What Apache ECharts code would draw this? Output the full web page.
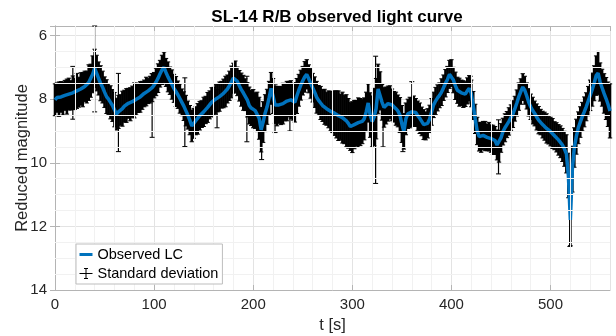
<!DOCTYPE html>
<html><head><meta charset="utf-8">
<script src="https://cdn.jsdelivr.net/npm/echarts@6/dist/echarts.min.js"></script>
<style>html,body{margin:0;padding:0;background:#fff}#c{width:616px;height:336px}</style>
</head><body><div id="c"></div>
<script>
// Observed reduced magnitude, sampled every 2 s from t = 0 to t = 560
const magnitude = [
8.02,7.95,8.00,7.93,7.98,7.88,7.92,7.84,7.88,7.80,
7.83,7.74,7.78,7.68,7.70,7.60,7.62,7.48,7.42,7.22,
7.03,7.18,7.35,7.50,7.62,7.78,7.92,8.00,8.10,8.20,
8.33,8.47,8.40,8.34,8.30,8.22,8.20,8.13,8.16,8.08,
8.04,8.00,7.96,7.93,7.88,7.82,7.76,7.74,7.70,7.64,
7.56,7.46,7.34,7.20,7.08,7.00,7.16,7.30,7.42,7.54,
7.66,7.76,7.86,7.98,8.10,8.22,8.36,8.50,8.66,8.84,
8.76,8.68,8.62,8.52,8.47,8.40,8.34,8.26,8.18,8.10,
8.06,8.00,7.96,7.92,7.86,7.82,7.76,7.68,7.58,7.46,
7.34,7.30,7.44,7.58,7.70,7.80,7.86,8.02,8.20,8.28,
8.30,8.36,8.40,8.60,8.96,8.72,8.44,8.24,7.96,7.66,
7.90,8.18,8.22,8.18,8.20,8.14,8.10,8.06,8.00,8.02,
8.08,8.10,7.90,7.72,7.56,7.42,7.30,7.22,7.36,7.50,
7.64,7.78,7.94,8.04,8.12,8.20,8.24,8.30,8.32,8.38,
8.40,8.44,8.48,8.52,8.56,8.58,8.64,8.68,8.76,8.86,
8.88,8.80,8.76,8.74,8.72,8.70,8.62,8.40,8.12,8.50,
8.70,8.56,8.30,7.68,7.74,8.10,8.26,8.20,8.14,8.10,
8.18,8.24,8.30,8.37,8.50,8.78,9.02,8.62,8.46,8.42,
8.40,8.37,8.42,8.52,8.60,8.70,8.80,8.84,8.76,8.62,
8.40,8.18,8.06,7.96,7.88,7.78,7.64,7.50,7.38,7.22,
7.18,7.40,7.58,7.72,7.78,7.80,7.84,7.84,7.74,7.66,
7.82,8.20,8.62,9.00,9.18,9.20,9.14,9.16,9.20,9.18,
9.24,9.28,9.30,9.44,9.48,9.22,9.02,8.90,8.80,8.70,
8.58,8.47,8.30,8.12,7.92,7.76,7.62,7.72,7.90,8.10,
8.24,8.36,8.45,8.56,8.66,8.72,8.80,8.85,8.92,8.98,
9.02,9.08,9.15,9.20,9.28,9.34,9.44,9.56,9.72,10.40,
11.80,10.20,9.52,9.18,8.90,8.72,8.55,8.40,8.24,8.06,
7.88,7.70,7.50,7.26,7.18,7.46,7.64,7.82,7.98,8.16,
8.37
];
// Standard deviation of each sample
const stdDev = [
0.50,0.46,0.54,0.48,0.52,0.47,0.55,0.50,0.46,0.53,
0.49,0.55,0.47,0.51,0.54,0.48,0.50,0.56,0.52,0.58,
0.60,0.56,0.52,0.55,0.50,0.48,0.53,0.49,0.52,0.50,
0.54,0.50,0.52,0.48,0.55,0.50,0.53,0.47,0.52,0.49,
0.55,0.50,0.46,0.48,0.44,0.42,0.45,0.40,0.42,0.44,
0.40,0.43,0.45,0.42,0.46,0.48,0.44,0.47,0.43,0.46,
0.44,0.47,0.43,0.46,0.42,0.45,0.48,0.44,0.46,0.50,
0.47,0.44,0.48,0.45,0.42,0.46,0.43,0.47,0.44,0.46,
0.43,0.47,0.44,0.46,0.42,0.45,0.48,0.44,0.46,0.50,
0.47,0.50,0.45,0.48,0.52,0.55,0.50,0.54,0.58,0.55,
0.60,0.56,0.62,0.66,0.70,0.64,0.58,0.55,0.52,0.50,
0.55,0.58,0.62,0.58,0.60,0.64,0.58,0.62,0.56,0.60,
0.58,0.62,0.55,0.50,0.47,0.45,0.48,0.46,0.44,0.47,
0.45,0.48,0.50,0.47,0.52,0.50,0.55,0.52,0.58,0.62,
0.65,0.70,0.74,0.78,0.72,0.80,0.76,0.82,0.78,0.75,
0.80,0.76,0.72,0.78,0.74,0.70,0.66,0.62,0.60,0.70,
0.80,0.90,0.95,0.78,0.60,0.56,0.62,0.58,0.55,0.52,
0.50,0.48,0.52,0.50,0.55,0.58,0.55,0.50,0.46,0.48,
0.45,0.47,0.44,0.46,0.48,0.45,0.47,0.44,0.46,0.43,
0.42,0.40,0.43,0.41,0.39,0.42,0.40,0.43,0.41,0.44,
0.42,0.40,0.43,0.41,0.44,0.40,0.42,0.39,0.41,0.40,
0.42,0.44,0.46,0.43,0.45,0.47,0.44,0.46,0.42,0.45,
0.43,0.46,0.44,0.47,0.50,0.45,0.42,0.44,0.41,0.43,
0.40,0.42,0.39,0.41,0.43,0.40,0.42,0.44,0.41,0.43,
0.40,0.42,0.39,0.41,0.43,0.40,0.42,0.44,0.46,0.43,
0.45,0.47,0.44,0.46,0.48,0.50,0.52,0.55,0.60,0.70,
0.80,0.72,0.62,0.55,0.50,0.48,0.45,0.47,0.44,0.46,
0.48,0.52,0.55,0.62,0.68,0.60,0.58,0.62,0.66,0.70,
0.85
];
// Isolated samples with large deviation
const outlierT = [18, 40, 64, 98, 131, 163.5, 193.6, 208.5, 222, 237, 323.5, 331, 351, 360, 419, 447.5, 519.5];
const outlierV = [7.80, 7.05, 8.42, 8.20, 8.41, 8.30, 8.31, 9.10, 8.30, 8.30, 8.65, 8.60, 9.05, 8.15, 7.70, 9.50, 11.80];
const outlierS = [0.83, 1.35, 1.23, 1.00, 1.08, 0.60, 1.03, 0.80, 0.75, 0.70, 2.00, 0.90, 0.60, 0.70, 0.42, 0.85, 0.83];

const sampleStep = 2;
const times = magnitude.map((_, i) => i * sampleStep);

const X_MIN = 0, X_MAX = 560, Y_MIN = 5.7, Y_MAX = 14;
const FONT = 'Liberation Sans, Arial, Helvetica, sans-serif';
const AXIS_COLOR = '#b4b4b4';

const lcData = times.map((t, i) => [t, magnitude[i]]);
const errData = times.map((t, i) => [t, magnitude[i], stdDev[i]]);
const outData = outlierT.map((t, i) => [t, outlierV[i], outlierS[i]]);

// minor grid positions
const xMinor = [], yMinor = [];
for (let v = 20; v < X_MAX; v += 20) if (v % 100 !== 0) xMinor.push(v);
for (let v = 6.5; v < Y_MAX; v += 0.5) if (v % 2 !== 0) yMinor.push(v);

function errRender(capHalf, width) {
  return function (params, api) {
    const x = api.value(0), v = api.value(1), s = api.value(2);
    const a = api.coord([x, v - s]);
    const b = api.coord([x, v + s]);
    return {
      type: 'group',
      children: [
        { type: 'line', shape: { x1: a[0], y1: a[1], x2: b[0], y2: b[1] }, style: { stroke: '#000', lineWidth: width } },
        { type: 'line', shape: { x1: a[0] - capHalf, y1: a[1], x2: a[0] + capHalf, y2: a[1] }, style: { stroke: '#000', lineWidth: 1 } },
        { type: 'line', shape: { x1: b[0] - capHalf, y1: b[1], x2: b[0] + capHalf, y2: b[1] }, style: { stroke: '#000', lineWidth: 1 } }
      ]
    };
  };
}

const chart = echarts.init(document.getElementById('c'), null, { renderer: 'canvas' });
const baseX = { type: 'value', min: X_MIN, max: X_MAX, minInterval: 100, maxInterval: 100 };
const baseY = { type: 'value', min: Y_MIN, max: Y_MAX, inverse: true, minInterval: 2, maxInterval: 2 };

chart.setOption({
  animation: false,
  backgroundColor: '#fff',
  title: {
    text: 'SL-14 R/B observed light curve',
    left: 332, top: 4, textAlign: 'center',
    textStyle: { fontFamily: FONT, fontSize: 17, fontWeight: 'bold', color: '#000' }
  },
  grid: { left: 55, right: 6, top: 26, bottom: 46, containLabel: false, outerBoundsMode: 'none' },
  legend: {
    left: 76, top: 244, orient: 'vertical', z: 10,
    padding: [3, 4, 3, 1], itemGap: 4, itemWidth: 13, itemHeight: 14,
    backgroundColor: '#fff', borderColor: '#bdbdbd', borderWidth: 1, borderRadius: 0,
    textStyle: { fontFamily: FONT, fontSize: 14.5, color: '#000' },
    data: [
      { name: 'Observed LC', icon: 'path://M0,0H13V3H0Z', itemStyle: { color: '#0072BD', borderWidth: 0 } },
      { name: 'Standard deviation', icon: 'path://M0,6H13M6.5,1V11M4.5,1H8.5M4.5,11H8.5',
        itemStyle: { color: 'none', borderColor: '#000', borderWidth: 1 } }
    ]
  },
  xAxis: [
    Object.assign({}, baseX, {
      position: 'bottom',
      name: 't [s]', nameLocation: 'middle', nameGap: 27,
      nameTextStyle: { fontFamily: FONT, fontSize: 16.5, color: '#262626' },
      axisLine: { show: true, lineStyle: { color: AXIS_COLOR, width: 1 } },
      axisTick: { show: true, inside: true, length: 5, lineStyle: { color: AXIS_COLOR } },
      axisLabel: { fontFamily: FONT, fontSize: 15, color: '#262626', margin: 7, showMaxLabel: false },
      splitLine: { show: true, lineStyle: { color: '#e3e3e3', width: 1 } }
    }),
    Object.assign({}, baseX, {
      position: 'top',
      axisLine: { show: true, lineStyle: { color: AXIS_COLOR, width: 1 } },
      axisTick: { show: true, inside: true, length: 5, lineStyle: { color: AXIS_COLOR } },
      axisLabel: { show: false }, splitLine: { show: false }
    })
  ],
  yAxis: [
    Object.assign({}, baseY, {
      position: 'left',
      name: 'Reduced magnitude', nameLocation: 'middle', nameGap: 24, nameMoveOverlap: false,
      nameTextStyle: { fontFamily: FONT, fontSize: 16.5, color: '#262626' },
      axisLine: { show: true, lineStyle: { color: AXIS_COLOR, width: 1 } },
      axisTick: { show: true, inside: true, length: 5, lineStyle: { color: AXIS_COLOR } },
      axisLabel: { fontFamily: FONT, fontSize: 15, color: '#262626', margin: 8, showMinLabel: false },
      splitLine: { show: true, lineStyle: { color: '#e3e3e3', width: 1 } }
    }),
    Object.assign({}, baseY, {
      position: 'right',
      axisLine: { show: true, lineStyle: { color: AXIS_COLOR, width: 1 } },
      axisTick: { show: true, inside: true, length: 5, lineStyle: { color: AXIS_COLOR } },
      axisLabel: { show: false }, splitLine: { show: false }
    })
  ],
  series: [
    {
      name: 'minor grid', type: 'line', data: [], z: 0, silent: true,
      markLine: {
        silent: true, symbol: 'none', animation: false,
        label: { show: false },
        lineStyle: { color: '#f1f1f1', width: 1, type: 'solid' },
        data: xMinor.map(v => ({ xAxis: v })).concat(yMinor.map(v => ({ yAxis: v })))
      }
    },
    {
      name: 'Standard deviation', type: 'custom', z: 2,
      renderItem: errRender(2.2, 2.6), data: errData, encode: { x: 0, y: 1 }, silent: true
    },
    {
      name: 'outliers', type: 'custom', z: 2,
      renderItem: errRender(2.5, 1.2), data: outData, encode: { x: 0, y: 1 }, silent: true
    },
    {
      name: 'Observed LC', type: 'line', z: 3, data: lcData,
      symbol: 'none', showSymbol: false, silent: true,
      lineStyle: { color: '#0072BD', width: 3.5 }, itemStyle: { color: '#0072BD' }
    }
  ]
});
</script>
</body></html>
